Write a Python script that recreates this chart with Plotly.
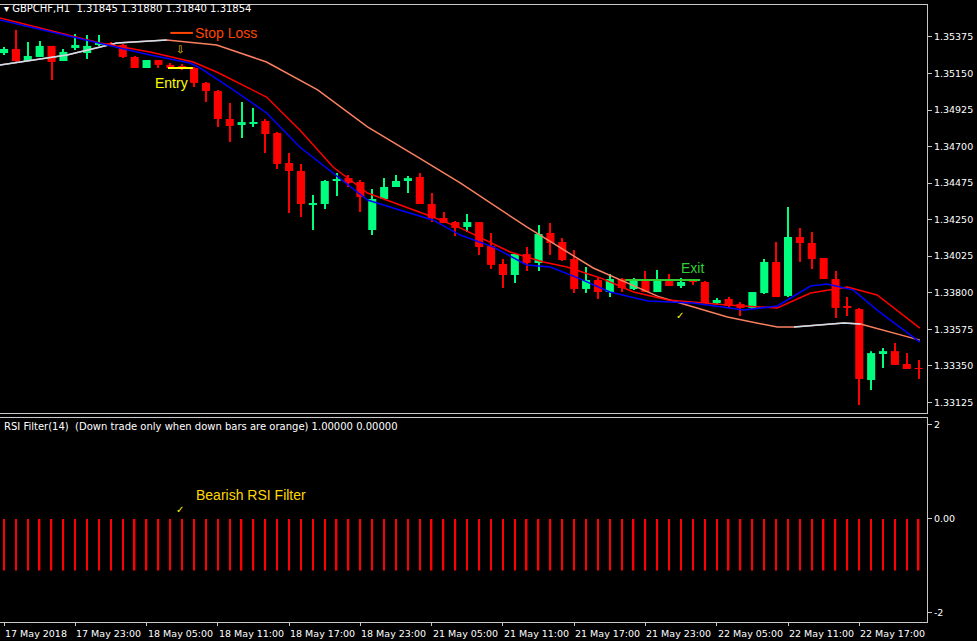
import plotly.graph_objects as go

# GBPCHF H1 candles (17 May 2018 17:00 onwards)
opens = [1.35276, 1.35301, 1.35227, 1.35252, 1.35320, 1.35227, 1.35307, 1.35276, 1.35326, 1.35338,
         1.35326, 1.35252, 1.35184, 1.35233, 1.35203, 1.35196, 1.35184, 1.35092, 1.35042, 1.34870,
         1.34833, 1.34845, 1.34858, 1.34784, 1.34599, 1.34550, 1.34346, 1.34346, 1.34488, 1.34506,
         1.34482, 1.34186, 1.34377, 1.34451, 1.34488, 1.34513, 1.34346, 1.34260, 1.34235, 1.34205,
         1.34235, 1.34088, 1.33977, 1.33909, 1.34038, 1.33983, 1.34168, 1.34112, 1.34007, 1.33823,
         1.33878, 1.33804, 1.33884, 1.33823, 1.33872, 1.33804, 1.33878, 1.33841, 1.33872, 1.33866,
         1.33736, 1.33761, 1.33730, 1.33706, 1.33798, 1.33989, 1.33780, 1.34143, 1.34106, 1.34014,
         1.33884, 1.33712, 1.33699, 1.33262, 1.33428, 1.33440, 1.33361, 1.33336]
highs = [1.35313, 1.35418, 1.35344, 1.35350, 1.35320, 1.35301, 1.35393, 1.35387, 1.35387, 1.35344,
         1.35332, 1.35258, 1.35233, 1.35233, 1.35215, 1.35209, 1.35190, 1.35098, 1.35048, 1.34968,
         1.34975, 1.34938, 1.34870, 1.34790, 1.34660, 1.34593, 1.34402, 1.34494, 1.34537, 1.34525,
         1.34494, 1.34439, 1.34506, 1.34525, 1.34519, 1.34537, 1.34414, 1.34297, 1.34242, 1.34285,
         1.34235, 1.34168, 1.34007, 1.34038, 1.34081, 1.34217, 1.34229, 1.34137, 1.34063, 1.33958,
         1.33890, 1.33915, 1.33890, 1.33890, 1.33934, 1.33940, 1.33915, 1.33890, 1.33878, 1.33872,
         1.33767, 1.33773, 1.33742, 1.33804, 1.34007, 1.34112, 1.34328, 1.34199, 1.34174, 1.34014,
         1.33934, 1.33773, 1.33706, 1.33440, 1.33459, 1.33490, 1.33428, 1.33385]
lows = [1.35264, 1.35221, 1.35227, 1.35252, 1.35110, 1.35227, 1.35295, 1.35239, 1.35320, 1.35320,
        1.35246, 1.35184, 1.35184, 1.35184, 1.35178, 1.35172, 1.35067, 1.34975, 1.34821, 1.34728,
        1.34753, 1.34821, 1.34660, 1.34562, 1.34291, 1.34266, 1.34186, 1.34315, 1.34396, 1.34451,
        1.34297, 1.34155, 1.34377, 1.34451, 1.34414, 1.34346, 1.34235, 1.34229, 1.34149, 1.34174,
        1.34032, 1.33946, 1.33829, 1.33860, 1.33934, 1.33934, 1.34032, 1.33995, 1.33798, 1.33798,
        1.33761, 1.33773, 1.33804, 1.33817, 1.33804, 1.33804, 1.33841, 1.33829, 1.33847, 1.33736,
        1.33730, 1.33706, 1.33656, 1.33699, 1.33792, 1.33773, 1.33773, 1.33989, 1.33946, 1.33884,
        1.33644, 1.33656, 1.33108, 1.33201, 1.33336, 1.33355, 1.33330, 1.33268]
closes = [1.35301, 1.35227, 1.35258, 1.35320, 1.35221, 1.35283, 1.35326, 1.35320, 1.35338, 1.35326,
          1.35252, 1.35184, 1.35233, 1.35203, 1.35184, 1.35184, 1.35092, 1.35042, 1.34870, 1.34827,
          1.34851, 1.34851, 1.34777, 1.34593, 1.34550, 1.34346, 1.34352, 1.34488, 1.34500, 1.34476,
          1.34389, 1.34377, 1.34451, 1.34488, 1.34506, 1.34346, 1.34260, 1.34229, 1.34199, 1.34235,
          1.34081, 1.33971, 1.33909, 1.34038, 1.33983, 1.34161, 1.34106, 1.34001, 1.33823, 1.33878,
          1.33804, 1.33884, 1.33829, 1.33878, 1.33804, 1.33878, 1.33841, 1.33866, 1.33866, 1.33736,
          1.33755, 1.33718, 1.33706, 1.33804, 1.33989, 1.33773, 1.34143, 1.34106, 1.34007, 1.33884,
          1.33706, 1.33706, 1.33268, 1.33428, 1.33440, 1.33355, 1.33330, 1.33330]

# moving averages, sampled points (x in bar index)
fast_x = [-0.34, 8.08, 12.29, 15.66, 16.5, 19.3, 22.1, 24.9, 27.7, 30.6, 33.3, 36.1, 38.4, 41.2, 44.0,
          46.0, 48.3, 51.0, 54.2, 58.0, 62.3, 65.1, 67.9, 69.3, 71.5, 73.5, 77.1]
fast_y = [1.35480, 1.35338, 1.35264, 1.35215, 1.35184, 1.35049, 1.34907, 1.34697, 1.34537, 1.34371,
          1.34309, 1.34248, 1.34155, 1.34081, 1.33971, 1.33958, 1.33891, 1.33804, 1.33749, 1.33736,
          1.33693, 1.33718, 1.33841, 1.33853, 1.33816, 1.33693, 1.33496]
mid_x = [-0.34, 8.08, 12.29, 15.92, 17.9, 22.1, 24.9, 27.7, 30.6, 36.1, 38.4, 42.6, 45.4, 47.4, 50.2,
         53.0, 55.9, 60.9, 65.1, 67.9, 71.0, 73.5, 77.1]
mid_y = [1.35492, 1.35338, 1.35283, 1.35221, 1.35159, 1.35005, 1.34802, 1.34574, 1.34414, 1.34266,
         1.34199, 1.34051, 1.33989, 1.33958, 1.33891, 1.33804, 1.33755, 1.33724, 1.33706, 1.33798,
         1.33835, 1.33786, 1.33582]
slow_x = [-0.34, 5.3, 9.5, 13.7, 17.9, 22.1, 26.4, 30.6, 34.8, 38.4, 44.0, 49.6, 55.2, 60.9, 65.1,
          66.5, 70.7, 72.1, 77.1]
slow_y = [1.35203, 1.35264, 1.35338, 1.35357, 1.35326, 1.35221, 1.35049, 1.34821, 1.34636, 1.34476,
          1.34205, 1.33952, 1.33773, 1.33650, 1.33588, 1.33588, 1.33613, 1.33607, 1.33508]

rsi_filter = [-1.1] * len(opens)

tick_idx = [0, 6, 12, 18, 24, 30, 36, 42, 48, 54, 60, 66, 72]
tick_text = ['17 May 2018', '17 May 23:00', '18 May 05:00', '18 May 11:00', '18 May 17:00',
             '18 May 23:00', '21 May 05:00', '21 May 11:00', '21 May 17:00', '21 May 23:00',
             '22 May 05:00', '22 May 11:00', '22 May 17:00']
price_ticks = [1.33125, 1.33350, 1.33575, 1.33800, 1.34025, 1.34250, 1.34475, 1.34700,
               1.34925, 1.35150, 1.35375]

idx = list(range(len(opens)))
GREEN = '#00ff7f'
RED = '#ff0000'
SALMON = '#fa8060'
FRAME = '#c8c8c8'

colors = [GREEN if c > o else RED for o, c in zip(opens, closes)]
body_base = [min(o, c) for o, c in zip(opens, closes)]
body_len = [max(abs(c - o), 0.00005) for o, c in zip(opens, closes)]
wick_len = [h - l for h, l in zip(highs, lows)]

fig = go.Figure()
fig.add_trace(go.Bar(x=idx, y=wick_len, base=lows, width=0.09, marker=dict(color=colors, line_width=0),
                     showlegend=False, hoverinfo='skip'))
fig.add_trace(go.Bar(x=idx, y=body_len, base=body_base, width=0.68,
                     marker=dict(color=colors, line_width=0), showlegend=False, hoverinfo='skip'))

# slow line: salmon, white where it turns flat
fig.add_trace(go.Scatter(x=slow_x, y=slow_y, mode='lines', line=dict(color=SALMON, width=1.5),
                         showlegend=False))
w1 = [i for i, v in enumerate(slow_x) if v <= 13.7]
w2 = [i for i, v in enumerate(slow_x) if 66.5 <= v <= 72.1]
for seg in (w1, w2):
    fig.add_trace(go.Scatter(x=[slow_x[i] for i in seg], y=[slow_y[i] for i in seg], mode='lines',
                             line=dict(color='#c8e0f0', width=1.5), showlegend=False))
fig.add_trace(go.Scatter(x=mid_x, y=mid_y, mode='lines', line=dict(color=RED, width=1.5),
                         showlegend=False))
fig.add_trace(go.Scatter(x=fast_x, y=fast_y, mode='lines', line=dict(color='#0000ff', width=1.5),
                         showlegend=False))

# trade levels
fig.add_trace(go.Scatter(x=[14.0, 15.9], y=[1.35400, 1.35400], mode='lines',
                         line=dict(color='#ff4500', width=2), showlegend=False))
fig.add_trace(go.Scatter(x=[13.8, 15.9], y=[1.35184, 1.35184], mode='lines',
                         line=dict(color='#ffff00', width=2), showlegend=False))
fig.add_trace(go.Scatter(x=[52.3, 58.6], y=[1.33878, 1.33878], mode='lines',
                         line=dict(color='#32cd32', width=2), showlegend=False))

fig.add_trace(go.Bar(x=idx, y=rsi_filter, marker=dict(color=RED, line_width=0), width=0.12,
                     xaxis='x2', yaxis='y2', showlegend=False))

ann_font = dict(family='Liberation Sans', size=14)
axis_font = dict(family='DejaVu Sans', size=9.5, color='white')
annotations = [
    dict(x=15.9, y=1.35400, text='Stop Loss', font=dict(ann_font, color='#ff4500'), xanchor='left'),
    dict(x=14.1, y=1.35090, text='Entry', font=dict(ann_font, color='#ffff00')),
    dict(x=14.8, y=1.35300, text='⇩', font=dict(family='DejaVu Sans', size=10, color='#ffd700')),
    dict(x=58.0, y=1.33950, text='Exit', font=dict(ann_font, color='#32cd32')),
    dict(x=56.9, y=1.33660, text='✓', font=dict(family='DejaVu Sans', size=10, color='#ffff00')),
    dict(x=14.8, y=0.2, text='✓', font=dict(family='DejaVu Sans', size=10, color='#ffff00'),
         xref='x2', yref='y2'),
    dict(x=16.0, y=0.5, text='Bearish RSI Filter', font=dict(ann_font, color='#ffd700'),
         xanchor='left', xref='x2', yref='y2'),
    dict(x=0.002, y=0.999, xref='paper', yref='paper', xanchor='left', yanchor='top',
         text='▾ GBPCHF,H1  1.31845 1.31880 1.31840 1.31854',
         font=dict(family='DejaVu Sans', size=10, color='white')),
    dict(x=0.002, y=0.347, xref='paper', yref='paper', xanchor='left', yanchor='top',
         text='RSI Filter(14)  (Down trade only when down bars are orange) 1.00000 0.00000',
         font=dict(family='DejaVu Sans', size=10, color='white')),
]
# MT4 style date labels start at their tick
for t, s in zip(tick_idx, tick_text):
    annotations.append(dict(x=t, y=0.0, xref='x2', yref='paper', text=s, xanchor='left',
                            yanchor='bottom', font=axis_font, xshift=-1))
for a in annotations:
    a.setdefault('showarrow', False)
    a.setdefault('xref', 'x')
    a.setdefault('yref', 'y')

xrange = [-0.34, 77.7]
fig.update_layout(
    width=977, height=641, margin=dict(l=0, r=50, t=0, b=0, autoexpand=False),
    paper_bgcolor='black', plot_bgcolor='black', annotations=annotations,
    barmode='overlay',
    xaxis=dict(domain=[0, 1], range=xrange, anchor='y', showgrid=False, showticklabels=False,
               showline=True, mirror=True, linecolor=FRAME, automargin=False,
               zeroline=False, ticks=''),
    yaxis=dict(domain=[0.3557, 0.9922], range=[1.33059, 1.35572], side='right', anchor='x',
               tickvals=price_ticks, ticktext=['%.5f' % v for v in price_ticks], tickfont=axis_font,
               ticks='outside', ticklen=4, tickcolor=FRAME, showgrid=False, showline=True,
               mirror=True, linecolor=FRAME, zeroline=False, automargin=False),
    xaxis2=dict(domain=[0, 1], range=xrange, anchor='y2', showgrid=False, tickvals=tick_idx,
                showticklabels=False, ticks='outside', ticklen=3,
                tickcolor=FRAME, showline=True, mirror=True, linecolor=FRAME, zeroline=False,
                automargin=False),
    yaxis2=dict(domain=[0.03, 0.348], range=[-2.188, 2.147], side='right', anchor='x2',
                tickvals=[2, 0, -2], ticktext=['2', '0.00', '-2'], tickfont=axis_font,
                ticks='outside', ticklen=4, tickcolor=FRAME, showgrid=False, showline=True,
                mirror=True, linecolor=FRAME, zeroline=False, automargin=False),
)

fig.write_html("out.html", config={'displayModeBar': False},
               post_script="document.body.style.margin='0';document.body.style.background='black';")
